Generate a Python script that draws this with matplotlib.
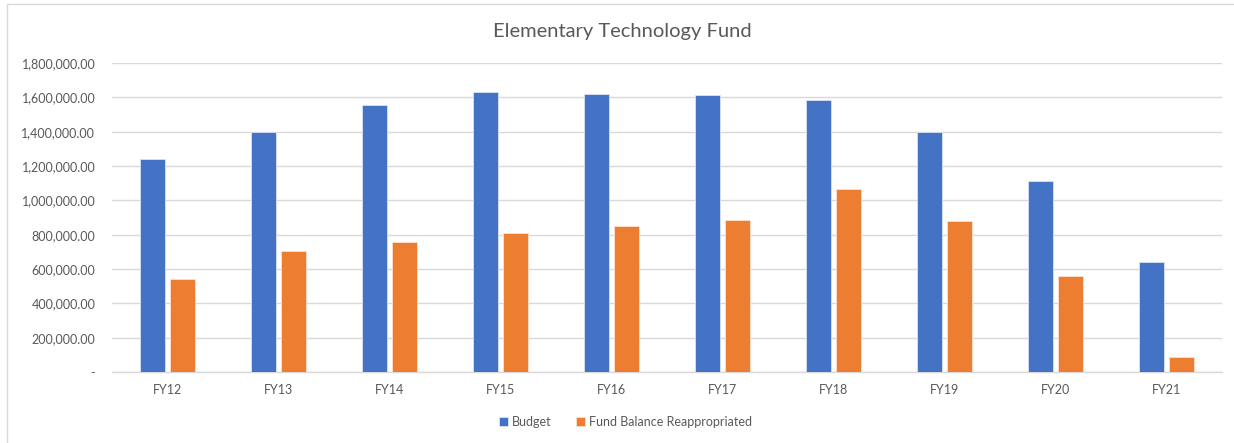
import matplotlib.pyplot as plt
import numpy as np
from matplotlib.patches import Rectangle
from matplotlib.ticker import FuncFormatter

years = ['FY12', 'FY13', 'FY14', 'FY15', 'FY16', 'FY17', 'FY18', 'FY19', 'FY20', 'FY21']
budget = [1242000, 1400000, 1553000, 1629000, 1621000, 1615000, 1586000, 1400000, 1114000, 641000]
fund_balance = [543000, 705000, 759000, 810000, 851000, 885000, 1068000, 878000, 557000, 87500]

plt.rcParams['font.family'] = ['Lato', 'DejaVu Sans']
txt = '#595959'
grid = '#D9D9D9'

fig = plt.figure(figsize=(12.34, 4.43), dpi=100)
ax = fig.add_axes([112 / 1234, 71 / 443, 1110 / 1234, 309 / 443])

# chart area border (cropped on right/bottom in the reference)
fig.patches.append(Rectangle((7 / 1234, -0.1), 1.2, 1.1 - 4 / 443 + 0.001,
                             transform=fig.transFigure, fill=False,
                             edgecolor=grid, linewidth=1.0))

x = np.arange(len(years))
w = 0.225
off = 0.137
ax.bar(x - off, budget, w, color='#4472C4', edgecolor='#dbe3f3', linewidth=0.6,
       label='Budget', zorder=3)
ax.bar(x + off, fund_balance, w, color='#ED7D31', edgecolor='#fbe0cf', linewidth=0.6,
       label='Fund Balance Reappropriated', zorder=3)

ax.set_xlim(-0.5, len(years) - 0.5)
ax.set_ylim(0, 1800000)
ax.set_yticks(np.arange(0, 1800001, 200000))
ax.yaxis.set_major_formatter(FuncFormatter(lambda v, p: '-' if v == 0 else f'{v:,.2f}'))
ax.set_xticks(x)
ax.set_xticklabels(years)

ax.grid(axis='y', color=grid, linewidth=1.0, zorder=0)
ax.set_axisbelow(True)
for s in ['top', 'right', 'left']:
    ax.spines[s].set_visible(False)
ax.spines['bottom'].set_color(grid)
ax.spines['bottom'].set_linewidth(1.0)
ax.tick_params(axis='both', length=0, labelsize=9, colors=txt)
ax.tick_params(axis='y', pad=12)
ax.tick_params(axis='x', pad=9)

fig.text(0.504, 1 - 32 / 443, 'Elementary Technology Fund', ha='center', va='center',
         fontsize=14.5, color=txt)
fig.legend(loc='center', bbox_to_anchor=(0.507, 1 - 422 / 443), ncol=2, frameon=False,
           fontsize=9, labelcolor=txt, handlelength=0.7, handleheight=0.7,
           handletextpad=0.3, columnspacing=2.0)

fig.savefig('out.png', dpi=100, facecolor='white')
